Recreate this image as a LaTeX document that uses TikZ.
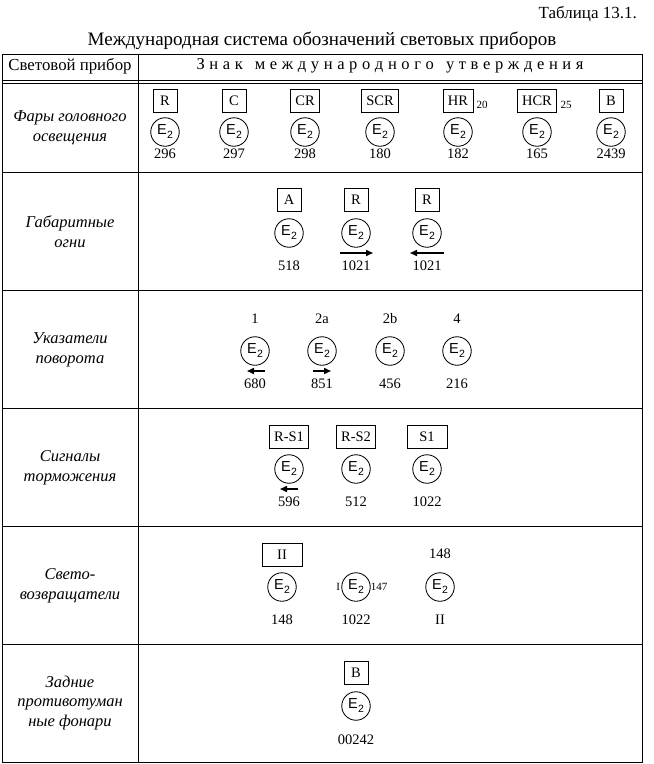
\documentclass[tikz,border=0pt]{standalone}
\usepackage{fontspec}
\setmainfont{Liberation Serif}
\setsansfont{Liberation Sans}
\usetikzlibrary{arrows.meta}
\newcommand\Etwo{{\sffamily\fontsize{14.5}{14}\selectfont E\kern0.3pt\raisebox{-4pt}{\fontsize{10.5}{10}\selectfont 2}}}
\begin{document}
\begin{tikzpicture}[x=1pt,y=-1pt,
  tbl/.style={line width=0.95pt},
  sym/.style={draw, line width=0.85pt, minimum height=23pt, minimum width=24pt, inner xsep=5pt, inner ysep=2pt, font=\fontsize{14.5}{14}\selectfont},
  emark/.style={draw, circle, line width=0.85pt, minimum size=28.5pt, inner sep=0pt},
  num/.style={font=\fontsize{14.5}{14}\selectfont, inner sep=0pt},
  small/.style={font=\fontsize{11}{11}\selectfont, inner sep=0pt},
  lbl/.style={font=\itshape\fontsize{16.5}{19.8}\selectfont, align=center, inner sep=0pt},
  arr/.style={line width=1.5pt, -{Triangle[length=7pt,width=6pt]}}
]
\useasboundingbox (0,0) rectangle (654,764);
% table frame
\draw[tbl] (2,54) rectangle (642,762);
\draw[line width=0.8pt] (2,80) -- (642,80);
\draw[line width=0.8pt] (2,83) -- (642,83);
\draw[tbl] (138,54) -- (138,762);
\foreach \yy in {172,290,408,526,644} \draw[tbl] (2,\yy) -- (642,\yy);
% captions
\node[anchor=east, inner sep=0pt, font=\fontsize{17}{17}\selectfont] (tab) at (637,14) {Таблица 13.1.};
\node[inner sep=0pt, font=\fontsize{19}{19}\selectfont] (title) at (322,41) {Международная система обозначений световых приборов};
\node[inner sep=0pt, font=\fontsize{16.8}{16}\selectfont] (h1) at (70,66) {Световой прибор};
\node[inner sep=0pt, font=\fontsize{16.5}{16}\selectfont] (h2) at (390,66) {\hbox to 387pt{З\hfill н\hfill а\hfill к\hskip0pt plus 2.6fill м\hfill е\hfill ж\hfill д\hfill у\hfill н\hfill а\hfill р\hfill о\hfill д\hfill н\hfill о\hfill г\hfill о\hskip0pt plus 2.6fill у\hfill т\hfill в\hfill е\hfill р\hfill ж\hfill д\hfill е\hfill н\hfill и\hfill я}};
% left column labels
\node[lbl] (l1) at (70,128) {Фары головного\\освещения};
\node[lbl] (l2) at (70,232) {Габаритные\\огни};
\node[lbl] (l3) at (70,350) {Указатели\\поворота};
\node[lbl] (l4) at (70,468) {Сигналы\\торможения};
\node[lbl] (l5) at (70,586) {Свето-\\возвращатели};
\node[lbl] (l6) at (70,703) {Задние\\противотуман\\ные фонари};
% row 1
\foreach \nm/\xx/\tx/\nn in {a/165/R/296, b/234/C/297, c/305/CR/298, d/380/SCR/180, e/458/HR/182, f/537/HCR/165, g/611/B/2439}{
  \node[sym] (b1\nm) at (\xx,101) {\tx};
  \node[emark] (e1\nm) at (\xx,132) {\Etwo};
  \node[num] (n1\nm) at (\xx,154) {\nn};
}
\node[small, anchor=west] (s20) at ([xshift=3pt,yshift=-4pt]b1e.east) {20};
\node[small, anchor=west] (s25) at ([xshift=3pt,yshift=-4pt]b1f.east) {25};
% row 2
\foreach \nm/\xx/\tx/\nn in {a/289/A/518, b/356/R/1021, c/427/R/1021}{
  \node[sym] (b2\nm) at (\xx,200) {\tx};
  \node[emark] (e2\nm) at (\xx,233) {\Etwo};
  \node[num] (n2\nm) at (\xx,266) {\nn};
}
\coordinate (r2bl) at (340,253); \coordinate (r2br) at (373,253);
\coordinate (r2cl) at (410,253); \coordinate (r2cr) at (444,253);
\draw[arr] (r2bl) -- (r2br);
\draw[arr] (r2cr) -- (r2cl);
% row 3
\foreach \nm/\xx/\tx/\nn in {a/255/1/680, b/322/2a/851, c/390/2b/456, d/457/4/216}{
  \node[num] (t3\nm) at (\xx,319) {\tx};
  \node[emark] (e3\nm) at (\xx,351) {\Etwo};
  \node[num] (n3\nm) at (\xx,384) {\nn};
}
\coordinate (r3al) at (247,371); \coordinate (r3ar) at (265,371);
\coordinate (r3bl) at (313,371); \coordinate (r3br) at (331,371);
\draw[arr] (r3ar) -- (r3al);
\draw[arr] (r3bl) -- (r3br);
% row 4
\foreach \nm/\xx/\tx/\nn in {a/289/R-S1/596, b/356/R-S2/512, c/427/S1/1022}{
  \node[emark] (e4\nm) at (\xx,469) {\Etwo};
  \node[num] (n4\nm) at (\xx,502) {\nn};
}
\node[sym] (b4a) at (289,437) {R-S1};
\node[sym] (b4b) at (356,437) {R-S2};
\node[sym, minimum width=40pt] (b4c) at (427,437) {S1};
\coordinate (r4al) at (280,489); \coordinate (r4ar) at (298,489);
\draw[arr] (r4ar) -- (r4al);
% row 5
\node[sym, minimum width=40pt] (b5a) at (282,555) {II};
\node[num] (t5c) at (440,554) {148};
\foreach \nm/\xx/\nn in {a/282/148, b/356/1022, c/440/II}{
  \node[emark] (e5\nm) at (\xx,587) {\Etwo};
  \node[num] (n5\nm) at (\xx,620) {\nn};
}
\node[small, anchor=east] (s5i) at ([xshift=-1pt]e5b.west) {I};
\node[small, anchor=west] (s5r) at ([xshift=0pt]e5b.east) {147};
% row 6
\node[sym] (b6) at (356,673) {B};
\node[emark] (e6) at (356,706) {\Etwo};
\node[num] (n6) at (356,740) {00242};
\end{tikzpicture}
\end{document}
